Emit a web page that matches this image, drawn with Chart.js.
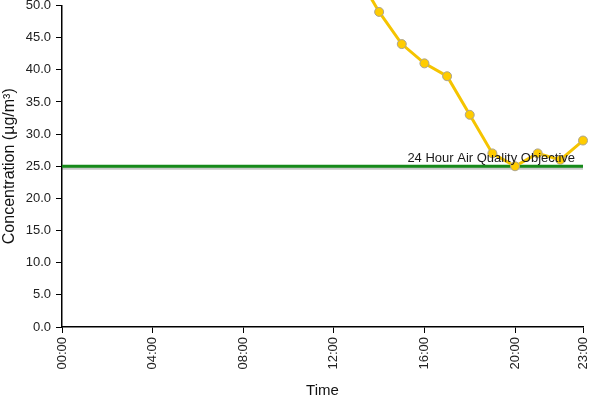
<!DOCTYPE html>
<html>
<head>
<meta charset="utf-8">
<script src="https://cdn.jsdelivr.net/npm/chart.js@4"></script>
<style>
  body { margin: 0; background: #fff; }
  #chart { display: block; }
</style>
</head>
<body>
<canvas id="chart" width="600" height="400"></canvas>
<script>
// hours of the day
const hours = ['00:00','01:00','02:00','03:00','04:00','05:00','06:00','07:00','08:00','09:00','10:00','11:00',
               '12:00','13:00','14:00','15:00','16:00','17:00','18:00','19:00','20:00','21:00','22:00','23:00'];
// hourly concentration, earlier hours are off the top of the chart
const concentration = [null, null, null, null, null, null, null, null, null, null, null, null,
                       null, 55, 49, 44, 41, 39, 33, 27, 25, 27, 26, 29];
const objective = 25;
const objectiveLabel = '24 Hour Air Quality Objective';
const yTicks = [0, 5, 10, 15, 20, 25, 30, 35, 40, 45, 50];

const FONT = "'Liberation Sans', Arial, sans-serif";

const objectiveLine = {
    id: 'objectiveLine',
    beforeDatasetDraw(chart, args) {
        if (args.index === 1) {
            const ctx = chart.ctx;
            ctx.save();
            ctx.shadowColor = 'rgba(0,0,0,0.22)';
            ctx.shadowOffsetY = 2;
            ctx.shadowBlur = 0;
        }
    },
    afterDatasetDraw(chart, args) {
        if (args.index === 1) chart.ctx.restore();
    },
    afterDatasetsDraw(chart) {
        const y = chart.scales.y.getPixelForValue(objective);
        const ctx = chart.ctx;
        ctx.save();
        ctx.font = '13px ' + FONT;
        ctx.fillStyle = '#1a1a1a';
        ctx.textAlign = 'right';
        ctx.textBaseline = 'alphabetic';
        ctx.fillText(objectiveLabel, chart.chartArea.right - 8, y - 4);
        ctx.restore();
    }
};

new Chart(document.getElementById('chart'), {
    type: 'line',
    data: {
        labels: hours,
        datasets: [{
            label: 'Concentration',
            data: concentration,
            borderColor: '#f5c400',
            borderWidth: 3,
            backgroundColor: '#ffcc00',
            pointBackgroundColor: '#ffcc00',
            pointBorderColor: '#aaa392',
            pointBorderWidth: 1,
            pointRadius: 4.5,
            tension: 0,
            clip: false,
            order: 0
        }, {
            label: 'Objective',
            data: hours.map(() => objective),
            borderColor: '#168a1a',
            borderWidth: 3,
            pointRadius: 0,
            tension: 0,
            order: 1
        }]
    },
    options: {
        responsive: false,
        animation: false,
        layout: { padding: { top: 5, right: 17, left: 0, bottom: 0 } },
        plugins: {
            legend: { display: false },
            tooltip: { enabled: false }
        },
        scales: {
            x: {
                offset: false,
                grid: { drawOnChartArea: false, color: '#000', tickLength: 6 },
                border: { color: '#000', width: 1.5 },
                ticks: {
                    autoSkip: false,
                    minRotation: 90,
                    maxRotation: 90,
                    color: '#222',
                    font: { family: FONT, size: 13 },
                    padding: 4,
                    callback: function (val, i) {
                        return (i % 4 === 0 || i === hours.length - 1) ? hours[i] : null;
                    }
                },
                title: {
                    display: true,
                    text: 'Time',
                    color: '#111',
                    font: { family: FONT, size: 15 },
                    padding: { top: 0, bottom: 0 }
                },
                afterFit(scale) {
                    scale.height = 73;
                    scale.paddingLeft = 0;
                    scale.paddingRight = 0;
                }
            },
            y: {
                min: 0,
                max: 50,
                afterBuildTicks(scale) { scale.ticks = yTicks.map(v => ({ value: v })); },
                grid: { drawOnChartArea: false, color: '#000', tickLength: 6 },
                border: { color: '#000', width: 1.5 },
                ticks: {
                    color: '#222',
                    font: { family: FONT, size: 13 },
                    padding: 5,
                    callback: v => v.toFixed(1)
                },
                title: {
                    display: true,
                    text: 'Concentration (µg/m³)',
                    color: '#111',
                    font: { family: FONT, size: 16 },
                    padding: { top: 0, bottom: 2 }
                },
                afterFit(scale) {
                    scale.width = 62;
                    scale.paddingTop = 0;
                    scale.paddingBottom = 0;
                }
            }
        }
    },
    plugins: [objectiveLine]
});
</script>
</body>
</html>
